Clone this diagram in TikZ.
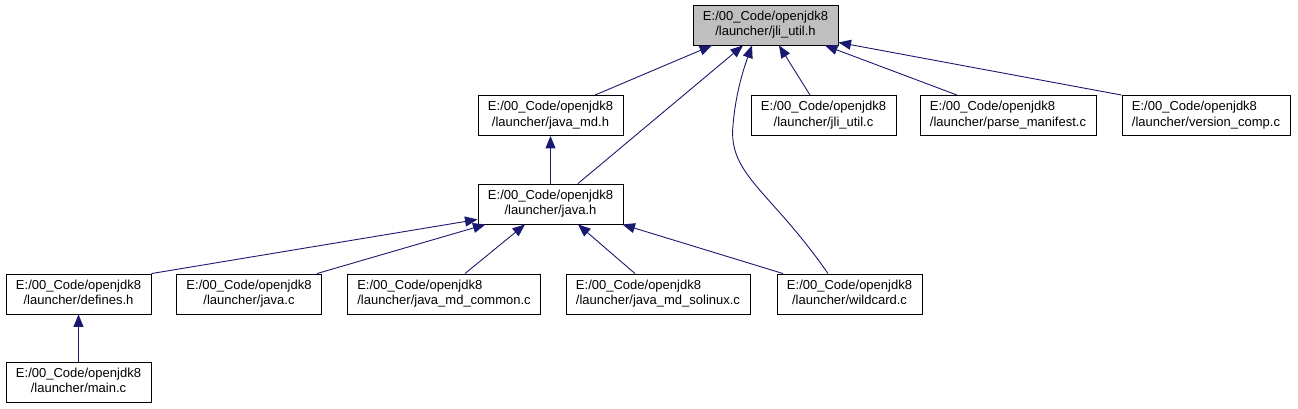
\documentclass[tikz,border=0pt]{standalone}
\usepackage{fontspec}
\setmainfont{Liberation Sans}
\usetikzlibrary{arrows.meta}
\definecolor{edgeblue}{HTML}{191970}
\definecolor{boxgray}{HTML}{BFBFBF}
\newcommand{\twoline}[2]{\begin{tabular}{@{}l@{}}#1\\\multicolumn{1}{@{}c@{}}{#2}\end{tabular}}
\begin{document}
\begin{tikzpicture}[x=1pt,y=-1pt,
  box/.style={draw=black, line width=0.9pt, fill=white, minimum height=40pt,
    inner xsep=10pt, inner ysep=0pt, font=\fontsize{13}{15.5}\selectfont},
  edge/.style={draw=edgeblue, line width=0.9pt, -{Triangle[length=12.5pt,width=10pt]}}]
\useasboundingbox (0,0) rectangle (1298,409);
\node[box,fill=boxgray] (jliH) at (765.5,25) {\twoline{E:/00\_Code/openjdk8}{/launcher/jli\_util.h}};
\node[box] (javamdH) at (550.5,115.5) {\twoline{E:/00\_Code/openjdk8}{/launcher/java\_md.h}};
\node[box] (jliC) at (823.5,115.5) {\twoline{E:/00\_Code/openjdk8}{/launcher/jli\_util.c}};
\node[box] (parse) at (1008,115.5) {\twoline{E:/00\_Code/openjdk8}{/launcher/parse\_manifest.c}};
\node[box] (version) at (1206,115.5) {\twoline{E:/00\_Code/openjdk8}{/launcher/version\_comp.c}};
\node[box] (javaH) at (550.5,204) {\twoline{E:/00\_Code/openjdk8}{/launcher/java.h}};
\node[box] (defines) at (78.5,294) {\twoline{E:/00\_Code/openjdk8}{/launcher/defines.h}};
\node[box] (javaC) at (249,294) {\twoline{E:/00\_Code/openjdk8}{/launcher/java.c}};
\node[box] (common) at (444,294) {\twoline{E:/00\_Code/openjdk8}{/launcher/java\_md\_common.c}};
\node[box] (solinux) at (658,294) {\twoline{E:/00\_Code/openjdk8}{/launcher/java\_md\_solinux.c}};
\node[box] (wildcard) at (849.5,294) {\twoline{E:/00\_Code/openjdk8}{/launcher/wildcard.c}};
\node[box] (mainC) at (78.5,382) {\twoline{E:/00\_Code/openjdk8}{/launcher/main.c}};
\coordinate (wbend) at (733,125);
\draw[edge] ([xshift=44.5pt]javamdH.north) -- ([xshift=-53.5pt]jliH.south);
\draw[edge] ([xshift=27.5pt]javaH.north) -- ([xshift=-22.5pt]jliH.south);
\draw[edge] ([xshift=-21.5pt]wildcard.north) .. controls (770,190) and (728,175) .. (wbend) .. controls (736,90) and (745,65) .. ([xshift=-13.5pt]jliH.south);
\draw[edge] ([xshift=-13.5pt]jliC.north) -- ([xshift=13.5pt]jliH.south);
\draw[edge] ([xshift=-51pt]parse.north) -- ([xshift=59.5pt]jliH.south);
\draw[edge] (version.north west) -- ([yshift=3pt]jliH.south east);
\draw[edge] (javaH.north) -- (javamdH.south);
\draw[edge] (defines.north east) -- ([yshift=5pt]javaH.south west);
\draw[edge] ([xshift=68pt]javaC.north) -- ([xshift=8pt]javaH.south west);
\draw[edge] ([xshift=21pt]common.north) -- ([xshift=-25.5pt]javaH.south);
\draw[edge] ([xshift=-23pt]solinux.north) -- ([xshift=27.5pt]javaH.south);
\draw[edge] ([xshift=-66.5pt]wildcard.north) -- ([xshift=-1pt]javaH.south east);
\draw[edge] (mainC.north) -- (defines.south);
\end{tikzpicture}
\end{document}
